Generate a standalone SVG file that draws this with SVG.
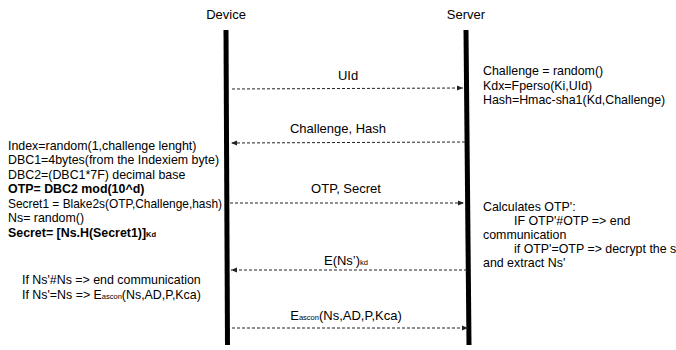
<svg xmlns="http://www.w3.org/2000/svg" width="676" height="350" viewBox="0 0 676 350">
<style>
text{font-family:"Liberation Sans",Arial,sans-serif;fill:#000}
.t{font-size:12.4px}
.m{font-size:13px;text-anchor:middle}
.b{font-weight:bold}
.s{font-size:7.5px}
.life{stroke:#000;stroke-width:5}
.msg{stroke:#222;stroke-width:1;stroke-dasharray:3,2;fill:none}
</style>
<defs>
<marker id="ah" viewBox="0 0 6 6" refX="6" refY="3" markerWidth="6" markerHeight="6" orient="auto" markerUnits="userSpaceOnUse">
<path d="M0,0.5 L6,3 L0,5.5 z" fill="#222"/>
</marker>
</defs>
<rect width="676" height="350" fill="#fff"/>
<g id="device">
<text class="m" x="226" y="19">Device</text>
<line class="life" x1="226" y1="30" x2="227.5" y2="345"/>
</g>
<g id="server">
<text class="m" x="466" y="19">Server</text>
<line class="life" x1="466" y1="30" x2="469" y2="345"/>
</g>
<g id="device-notes">
<text class="t" x="8" y="149.5">Index=random(1,challenge lenght)</text>
<text class="t" x="8" y="164">DBC1=4bytes(from the Indexiem byte)</text>
<text class="t" x="8" y="178.5">DBC2=(DBC1*7F) decimal base</text>
<text class="t b" x="8" y="193">OTP= DBC2 mod(10^d)</text>
<text class="t" x="8" y="207.5" textLength="214" lengthAdjust="spacingAndGlyphs">Secret1 = Blake2s(OTP,Challenge,hash)</text>
<text class="t" x="8" y="222">Ns= random()</text>
<text class="t b" x="8" y="236.5">Secret= [Ns.H(Secret1)]<tspan class="s">Kd</tspan></text>
<text class="t" x="22" y="284">If Ns'#Ns =&gt; end communication</text>
<text class="t" x="22" y="298.5">If Ns'=Ns =&gt; E<tspan class="s">ascon</tspan>(Ns,AD,P,Kca)</text>
</g>
<g id="server-notes">
<text class="t" x="483" y="75">Challenge = random()</text>
<text class="t" x="483" y="89.5">Kdx=Fperso(Ki,UId)</text>
<text class="t" x="483" y="104">Hash=Hmac-sha1(Kd,Challenge)</text>
<text class="t" x="483" y="211">Calculates OTP':</text>
<text class="t" x="514" y="225">IF OTP'#OTP =&gt; end</text>
<text class="t" x="483" y="239">communication</text>
<text class="t" x="514" y="253">if OTP'=OTP =&gt; decrypt the secret</text>
<text class="t" x="483" y="267">and extract Ns'</text>
</g>
<g id="connectors">
<line class="msg" x1="232" y1="89" x2="463" y2="88" marker-end="url(#ah)"/>
<text class="m" x="348" y="80">UId</text>
<line class="msg" x1="465" y1="142" x2="231" y2="143" marker-end="url(#ah)"/>
<text class="m" x="338" y="133">Challenge, Hash</text>
<line class="msg" x1="230" y1="203" x2="464" y2="203" marker-end="url(#ah)"/>
<text class="m" x="346" y="193">OTP, Secret</text>
<line class="msg" x1="467" y1="270" x2="231" y2="270" marker-end="url(#ah)"/>
<text class="m" x="346" y="265">E(Ns’)<tspan class="s">kd</tspan></text>
<line class="msg" x1="232" y1="328" x2="468" y2="328" marker-end="url(#ah)"/>
<text class="m" x="346" y="320">E<tspan class="s">ascon</tspan>(Ns,AD,P,Kca)</text>
</g>
</svg>
